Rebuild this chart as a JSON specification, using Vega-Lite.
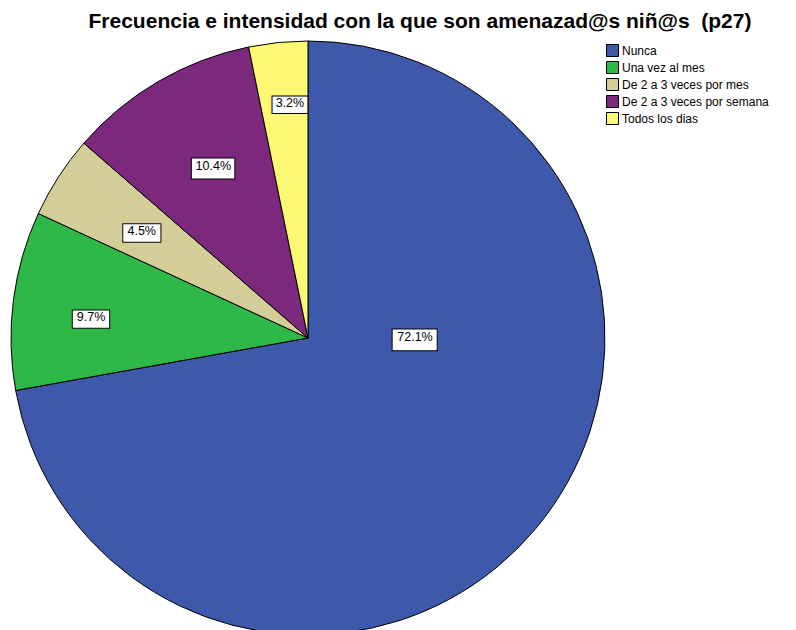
{
  "$schema": "https://vega.github.io/schema/vega-lite/v6.json",
  "autosize": {"type": "none"},
  "width": 616,
  "height": 596,
  "padding": {"left": 0, "top": 40, "right": 180, "bottom": 0},
  "background": "white",
  "title": {
    "text": "Frecuencia e intensidad con la que son amenazad@s niñ@s \u00a0(p27)",
    "font": "Liberation Sans",
    "fontSize": 21,
    "fontWeight": "bold",
    "color": "black",
    "anchor": "middle",
    "dx": 112,
    "offset": 7
  },
  "data": {
    "values": [
      {"cat": "Nunca", "pct": 72.1, "lab": "72.1%", "orden": 1},
      {"cat": "Una vez al mes", "pct": 9.7, "lab": "9.7%", "orden": 2},
      {"cat": "De 2 a 3 veces por mes", "pct": 4.5, "lab": "4.5%", "orden": 3},
      {"cat": "De 2 a 3 veces por semana", "pct": 10.4, "lab": "10.4%", "orden": 4},
      {"cat": "Todos los dias", "pct": 3.2, "lab": "3.2%", "orden": 5}
    ]
  },
  "encoding": {
    "theta": {"field": "pct", "type": "quantitative", "stack": true},
    "order": {"field": "orden", "type": "quantitative"}
  },
  "layer": [
    {
      "mark": {"type": "arc", "outerRadius": 297, "stroke": "black", "strokeWidth": 1},
      "encoding": {
        "color": {
          "field": "cat",
          "type": "nominal",
          "sort": ["Nunca", "Una vez al mes", "De 2 a 3 veces por mes", "De 2 a 3 veces por semana", "Todos los dias"],
          "scale": {
            "domain": ["Nunca", "Una vez al mes", "De 2 a 3 veces por mes", "De 2 a 3 veces por semana", "Todos los dias"],
            "range": ["#3E58AC", "#2EB848", "#D3CE97", "#7C287D", "#FBF873"]
          },
          "legend": {
            "title": null,
            "orient": "none",
            "legendX": 606,
            "legendY": 4,
            "symbolType": "square",
            "symbolSize": 144,
            "symbolStrokeColor": "black",
            "symbolStrokeWidth": 1,
            "symbolOpacity": 1,
            "labelFont": "Liberation Sans",
            "labelFontSize": 12,
            "labelColor": "black",
            "labelOffset": 3,
            "rowPadding": 0,
            "padding": 0
          }
        }
      }
    },
    {
      "mark": {"type": "text", "radius": 107, "thetaOffset": -0.705, "font": "DejaVu Sans", "fontSize": 59, "fill": "white", "stroke": "black", "strokeWidth": 1, "baseline": "middle", "align": "center"},
      "encoding": {
        "text": {"value": "▬"},
        "opacity": {"condition": {"test": "datum.cat === 'Nunca'", "value": 1}, "value": 0}
      }
    },
    {
      "mark": {"type": "text", "radius": 107, "thetaOffset": -0.705, "font": "Liberation Sans", "fontSize": 12.5, "fill": "black", "baseline": "middle", "align": "center"},
      "encoding": {
        "text": {"field": "lab"},
        "opacity": {"condition": {"test": "datum.cat === 'Nunca'", "value": 1}, "value": 0}
      }
    },
    {
      "mark": {"type": "text", "radius": 218, "thetaOffset": -0.031, "font": "DejaVu Sans", "fontSize": 49, "fill": "white", "stroke": "black", "strokeWidth": 1, "baseline": "middle", "align": "center"},
      "encoding": {
        "text": {"value": "▬"},
        "opacity": {"condition": {"test": "datum.cat === 'Una vez al mes'", "value": 1}, "value": 0}
      }
    },
    {
      "mark": {"type": "text", "radius": 218, "thetaOffset": -0.031, "font": "Liberation Sans", "fontSize": 12.5, "fill": "black", "baseline": "middle", "align": "center"},
      "encoding": {
        "text": {"field": "lab"},
        "opacity": {"condition": {"test": "datum.cat === 'Una vez al mes'", "value": 1}, "value": 0}
      }
    },
    {
      "mark": {"type": "text", "radius": 198, "font": "DejaVu Sans", "fontSize": 50, "fill": "white", "stroke": "black", "strokeWidth": 1, "baseline": "middle", "align": "center"},
      "encoding": {
        "text": {"value": "▬"},
        "opacity": {"condition": {"test": "datum.cat === 'De 2 a 3 veces por mes'", "value": 1}, "value": 0}
      }
    },
    {
      "mark": {"type": "text", "radius": 198, "font": "Liberation Sans", "fontSize": 12.5, "fill": "black", "baseline": "middle", "align": "center"},
      "encoding": {
        "text": {"field": "lab"},
        "opacity": {"condition": {"test": "datum.cat === 'De 2 a 3 veces por mes'", "value": 1}, "value": 0}
      }
    },
    {
      "mark": {"type": "text", "radius": 196, "thetaOffset": 0.024, "font": "DejaVu Sans", "fontSize": 57, "fill": "white", "stroke": "black", "strokeWidth": 1, "baseline": "middle", "align": "center"},
      "encoding": {
        "text": {"value": "▬"},
        "opacity": {"condition": {"test": "datum.cat === 'De 2 a 3 veces por semana'", "value": 1}, "value": 0}
      }
    },
    {
      "mark": {"type": "text", "radius": 196, "thetaOffset": 0.024, "font": "Liberation Sans", "fontSize": 12.5, "fill": "black", "baseline": "middle", "align": "center"},
      "encoding": {
        "text": {"field": "lab"},
        "opacity": {"condition": {"test": "datum.cat === 'De 2 a 3 veces por semana'", "value": 1}, "value": 0}
      }
    },
    {
      "mark": {"type": "text", "radius": 236, "thetaOffset": 0.024, "font": "DejaVu Sans", "fontSize": 47, "fill": "white", "stroke": "black", "strokeWidth": 1, "baseline": "middle", "align": "center"},
      "encoding": {
        "text": {"value": "▬"},
        "opacity": {"condition": {"test": "datum.cat === 'Todos los dias'", "value": 1}, "value": 0}
      }
    },
    {
      "mark": {"type": "text", "radius": 236, "thetaOffset": 0.024, "font": "Liberation Sans", "fontSize": 12.5, "fill": "black", "baseline": "middle", "align": "center"},
      "encoding": {
        "text": {"field": "lab"},
        "opacity": {"condition": {"test": "datum.cat === 'Todos los dias'", "value": 1}, "value": 0}
      }
    }
  ]
}
